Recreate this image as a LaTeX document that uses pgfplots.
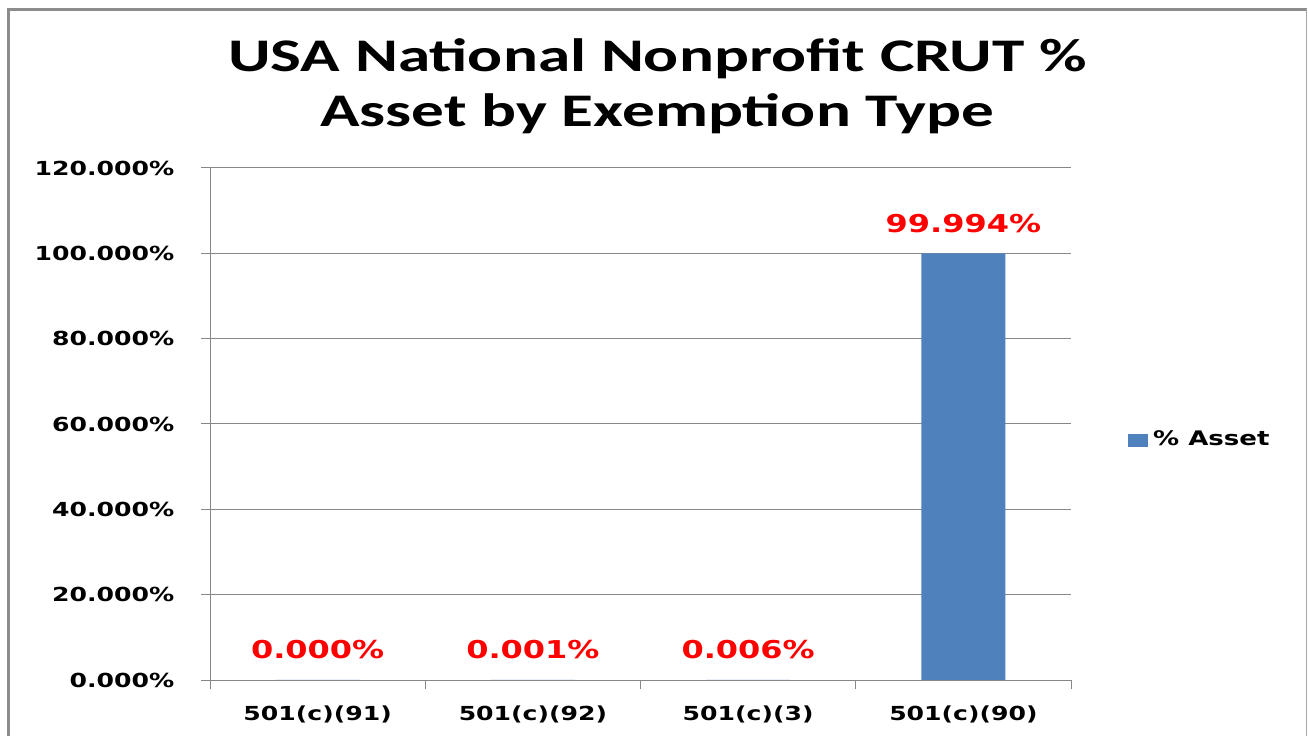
\documentclass[border=0pt]{standalone}
\usepackage{pgfplots}
\pgfplotsset{compat=1.18}
\usepackage{fontspec}
\newfontfamily\titlefont{Carlito}[FakeStretch=1.395]
\newfontfamily\labelfont{DejaVu Sans}[FakeStretch=1.3]
\definecolor{barblue}{HTML}{4F81BD}
\definecolor{gridgray}{HTML}{878787}

\begin{document}
\begin{tikzpicture}
\useasboundingbox (0,0) rectangle (13.08,7.36);
\fill[white] (0,0) rectangle (13.08,7.36);
% outer chart frame
\draw[gray!90, line width=0.03cm] (0.09,0) -- (0.09,7.265) -- (13.07,7.265);
\draw[gray!70, line width=0.01cm] (13.065,7.265) -- (13.065,0);
% title
\node[anchor=base, inner sep=0pt, font={\titlefont\bfseries\fontsize{13.3}{15}\selectfont}] at (6.575,6.64) {USA National Nonprofit CRUT \%};
\node[anchor=base, inner sep=0pt, font={\titlefont\bfseries\fontsize{13.3}{15}\selectfont}] at (6.575,6.09) {Asset by Exemption Type};

\begin{axis}[
  at={(2.10cm,0.56cm)}, anchor=south west,
  scale only axis, width=8.61cm, height=5.12cm,
  ybar, bar width=0.84cm,
  enlargelimits=false,
  xmin=0.5, xmax=4.5, ymin=0, ymax=120,
  axis x line*=bottom, axis y line*=left,
  axis line style={-, gridgray, line width=0.01cm},
  xtick={0.5,1.5,2.5,3.5,4.5},
  x tick label as interval,
  xticklabels={501(c)(91),501(c)(92),501(c)(3),501(c)(90)},
  ytick={0,20,40,60,80,100,120},
  yticklabels={0.000\%,20.000\%,40.000\%,60.000\%,80.000\%,100.000\%,120.000\%},
  tick align=outside, major tick length=0.09cm,
  tick style={gridgray, line width=0.01cm},
  ymajorgrids, grid style={gridgray, line width=0.01cm},
  tick label style={font={\labelfont\bfseries\fontsize{5.5}{6}\selectfont}, inner sep=0pt},
  yticklabel style={anchor=east, xshift=-0.26cm},
  xticklabel style={anchor=north, yshift=-0.16cm},
  point meta=explicit symbolic,
  nodes near coords,
  every node near coord/.append style={text=red, anchor=base, yshift=0.21cm, inner sep=0pt,
    font={\labelfont\bfseries\fontsize{7}{8}\selectfont}},
  legend style={draw=none, fill=none, at={(1.065,0.467)}, anchor=west, inner sep=0pt,
    font={\labelfont\bfseries\fontsize{5.7}{6}\selectfont},
    nodes={inner xsep=0.055cm}},
  legend image code/.code={\fill[barblue] (0cm,-0.065cm) rectangle (0.2cm,0.065cm);},
]
\addplot[fill=barblue, draw=none] coordinates {
  (1,0) [0.000\%]
  (2,0.001) [0.001\%]
  (3,0.006) [0.006\%]
  (4,99.994) [99.994\%]
};
\addlegendentry{\% Asset}
\end{axis}
\end{tikzpicture}
\end{document}
